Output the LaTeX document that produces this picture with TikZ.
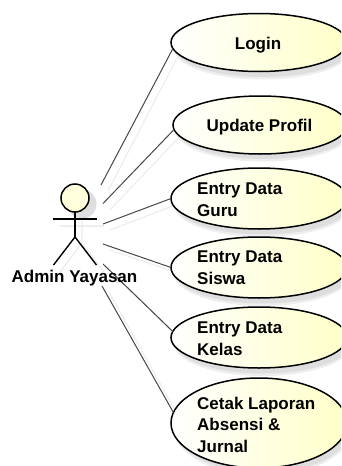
\documentclass[tikz,border=0pt]{standalone}
\usepackage{fontspec}
\setmainfont{Liberation Sans}
\usetikzlibrary{shapes.geometric}
\definecolor{ucyellow}{RGB}{255,255,200}
\definecolor{headyellow}{RGB}{255,255,220}
\definecolor{shadowgray}{RGB}{222,222,222}
\definecolor{shadowlight}{RGB}{238,238,238}
\tikzset{
  x=1pt,y=-1pt,
  usecase/.style={ellipse,draw=black,line width=1.5pt,left color=white,right color=ucyellow,inner sep=0pt,outer sep=0pt,minimum width=176pt,minimum height=61pt},
  assoc/.style={draw=black!72,line width=1pt},
  assocshadow/.style={draw=shadowlight,line width=1.2pt},
  figure/.style={draw=black,line width=1.4pt},
  figureshadow/.style={draw=shadowlight,line width=1.4pt},
  lbl/.style={font=\bfseries\fontsize{17}{21.3}\selectfont,align=left,text=black,inner sep=0pt},
}
\begin{document}
\begin{tikzpicture}
\useasboundingbox (0,0) rectangle (341,466);
\fill[white] (0,0) rectangle (341,466);
\clip (0,0) rectangle (341,466);
% soft shadows of the use cases
\foreach \cx/\cy/\rx/\ry in {263/49/88/29, 264/131/87/29, 263/205/88/30.5, 263/274/88/30.5, 263/344/88/30.5, 263/429/88/45}{
  \fill[shadowlight] (\cx,\cy) ellipse [x radius=\rx+1, y radius=\ry+1.5];
  \fill[shadowgray] (\cx,\cy-1) ellipse [x radius=\rx, y radius=\ry];
}
% shadows of the associations
\draw[assocshadow] (108,191) -- (179,54);
\draw[assocshadow] (110,210) -- (180,136);
\draw[assocshadow] (110,230) -- (178,204);
\draw[assocshadow] (110,250) -- (178,273);
\draw[assocshadow] (110,270) -- (179,338);
\draw[assocshadow] (109,292) -- (180,419);
% shadow of the actor
\fill[shadowgray] (82,204) circle (14.5);
\draw[figureshadow] (60,226) -- (104,226);
\draw[figureshadow] (82,218) -- (82,243) (82,243) -- (60,272) (82,243) -- (104,272);
% actor
\node[circle,draw=black,line width=1.5pt,fill=headyellow,minimum size=28pt,inner sep=0pt,outer sep=0pt] (head) at (75,198) {};
\coordinate (hip) at (75,237);
\coordinate (armL) at (53,219);
\coordinate (armR) at (97,219);
\coordinate (footL) at (53.5,265);
\coordinate (footR) at (96.5,265);
\draw[figure] (head.south) -- (hip);
\draw[figure] (armL) -- (armR);
\draw[figure] (hip) -- (footL);
\draw[figure] (hip) -- (footR);
% use cases
\node[usecase,minimum height=58pt] (login) at (259,42.5) {};
\node[usecase,minimum width=174pt,minimum height=58pt] (profil) at (260,125) {};
\node[usecase] (guru) at (259,198.5) {};
\node[usecase] (siswa) at (259,267.5) {};
\node[usecase] (kelas) at (259,337.5) {};
\node[usecase,minimum height=90pt] (lap) at (259,423) {};
% actor-side end points
\coordinate (a1) at (101,185);
\coordinate (a2) at (103,203.5);
\coordinate (a3) at (103,224);
\coordinate (a4) at (103,244);
\coordinate (a5) at (103,264);
\coordinate (a6) at (102,286);
% associations
\draw[assoc] (a1) -- (login.184);
\draw[assoc] (a2) -- (profil.183);
\draw[assoc] (a3) -- (guru.180);
\draw[assoc] (a4) -- (siswa.180);
\draw[assoc] (a5) -- (kelas.176);
\draw[assoc] (a6) -- (lap.173);
% labels
\node[lbl,anchor=center] (actorlabel) at (74.5,278) {Admin Yayasan};
\node[lbl] (logintext) at (258,45.5) {Login};
\node[lbl] (profiltext) at (259.5,127) {Update Profil};
\node[lbl,anchor=base west] (gurutext) at (197,216) {Entry Data\\Guru};
\node[lbl,anchor=base west] (siswatext) at (197,284) {Entry Data\\Siswa};
\node[lbl,anchor=base west] (kelastext) at (197,355) {Entry Data\\Kelas};
\node[lbl,anchor=base west] (laptext) at (197,452) {Cetak Laporan\\Absensi \&\\Jurnal};
\end{tikzpicture}
\end{document}
